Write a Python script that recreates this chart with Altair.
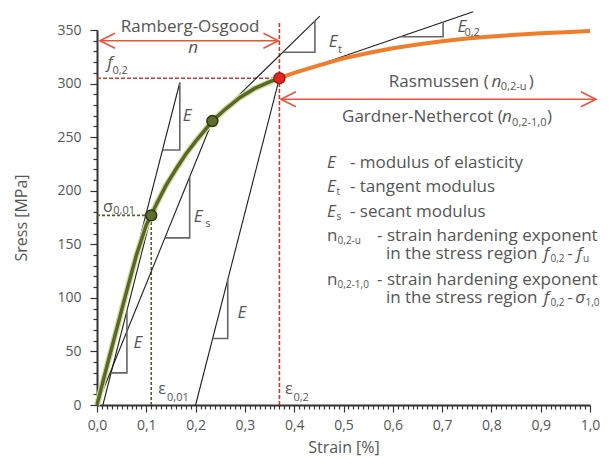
import altair as alt
import numpy as np
import pandas as pd

FONT = "Open Sans"
GRAY = "#555555"
RED_DASH = "#d8322a"
RED_ARROW = "#e9553a"
ORANGE = "#ef7d2a"
GREEN = "#56682b"
GREEN_HALO = "#d3dc96"
GREEN_DASH = "#4f6125"
BLACK = "#1f1f1f"
TRI = "#666666"

# ---------------- data (strain in %, stress in MPa) ----------------
green_strain = [0.0, 0.02, 0.04, 0.06, 0.08, 0.10, 0.11, 0.12, 0.14, 0.16, 0.18, 0.20, 0.234, 0.26, 0.29, 0.32, 0.35, 0.37]
green_stress = [0, 36, 71, 106, 140, 168, 177, 187, 205, 220, 234, 246, 265, 276, 287, 295.5, 301.5, 305]

orange_strain = [0.37, 0.40, 0.45, 0.50, 0.55, 0.60, 0.65, 0.70, 0.75, 0.80, 0.85, 0.90, 0.95, 1.00]
orange_stress = [305, 310, 317, 323.5, 328.5, 333, 336.5, 339.5, 342, 344, 345.5, 347, 348, 349]

point_strain = [0.11, 0.234, 0.37]
point_stress = [177, 265, 305]
point_fill = ["#5d6f2c", "#5d6f2c", "#e0281e"]
point_edge = ["#2b3512", "#2b3512", "#a01810"]

# straight reference lines: (id, strains, stresses)
ref_lines = [
    ("E", [0.0, 0.168], [0, 301]),
    ("E001", [0.012, 0.11], [0, 177]),
    ("Es", [0.0, 0.234], [0, 265]),
    ("Et", [0.234, 0.452], [265, 363]),
    ("E02off", [0.2, 0.37], [0, 305]),
    ("E02", [0.37, 0.763], [305, 367]),
]

# slope triangles
triangles = [
    ("t1", [0.133, 0.168, 0.168], [238, 238, 301]),
    ("t2", [0.138, 0.188, 0.188], [156, 156, 213]),
    ("t3", [0.2346, 0.2652, 0.2652], [62, 62, 117]),
    ("t4", [0.0286, 0.0607, 0.0607], [30, 30, 88]),
    ("t5", [0.377, 0.442, 0.442], [329.3, 329.3, 358.5]),
    ("t6", [0.615, 0.702, 0.702], [343.7, 343.7, 357.4]),
]

red_dashed = [
    ("v", [0.37, 0.37], [0, 358]),
    ("h", [0.0, 0.37], [305, 305]),
]
green_dashed = [
    ("v", [0.11, 0.11], [0, 177]),
    ("h", [0.0, 0.11], [177, 177]),
]

arrows = [
    ("ro", [0.006, 0.368], [340, 340]),
    ("rg", [0.373, 1.012], [285.3, 285.3]),
]

x_ticks = [round(v, 2) for v in np.arange(0, 1.0001, 0.01)]
y_ticks = list(range(0, 351, 10))


def seg_frame(segments):
    rows = []
    for sid, xs, ys in segments:
        for i, (a, b) in enumerate(zip(xs, ys)):
            rows.append({"id": sid, "o": i, "x": a, "y": b})
    return pd.DataFrame(rows)


def text_frame(items):
    return pd.DataFrame([{"t": t, "x": x, "y": y} for t, x, y in items])


xmajor = "abs(datum.value*10 - round(datum.value*10)) < 0.001"
x_axis = alt.Axis(
    values=x_ticks,
    labelExpr=f"{xmajor} ? replace(format(datum.value, '.1f'), '.', ',') : ''",
    tickSize={"condition": {"test": xmajor, "value": 7}, "value": 4},
    grid=False, domainColor="#333333", domainWidth=2, tickColor="#333333", tickWidth=1.2,
    labelFont=FONT, labelFontSize=14, labelColor=GRAY, labelPadding=6,
    labelFlush=False, labelOverlap=False,
    titleFont=FONT, titleFontSize=16, titleColor=GRAY, titleFontWeight="normal", titlePadding=7,
)
ymajor = "datum.value % 50 === 0"
y_axis = alt.Axis(
    values=y_ticks,
    labelExpr=f"{ymajor} ? format(datum.value, 'd') : ''",
    tickSize={"condition": {"test": ymajor, "value": 7}, "value": 4},
    grid=False, domainColor="#333333", domainWidth=2, tickColor="#333333", tickWidth=1.2,
    labelFont=FONT, labelFontSize=14, labelColor=GRAY, labelPadding=9,
    labelOverlap=False,
    titleFont=FONT, titleFontSize=16, titleColor=GRAY, titleFontWeight="normal", titlePadding=27,
)

xs = alt.Scale(domain=[0, 1], nice=False, zero=False)
ys = alt.Scale(domain=[0, 350], nice=False)
X = alt.X("x:Q", scale=xs, axis=x_axis, title="Strain [%]")
Y = alt.Y("y:Q", scale=ys, axis=y_axis, title="Sress [MPa]")


def lines(segs, color, width, dash=None):
    kw = dict(color=color, strokeWidth=width)
    if dash:
        kw["strokeDash"] = dash
    return alt.Chart(seg_frame(segs)).mark_line(**kw).encode(
        x=X, y=Y, detail="id:N", order="o:Q")


def texts(items, size, italic=False, align="left", color=GRAY):
    return alt.Chart(text_frame(items)).mark_text(
        font=FONT, fontSize=size, fontStyle="italic" if italic else "normal",
        align=align, baseline="middle", color=color,
    ).encode(x=X, y=Y, text="t:N")


green_df = pd.DataFrame({"x": green_strain, "y": green_stress})
orange_df = pd.DataFrame({"x": orange_strain, "y": orange_stress})
pts_df = pd.DataFrame({"x": point_strain, "y": point_stress, "f": point_fill, "s": point_edge})

layers = []
layers.append(lines(red_dashed, RED_DASH, 1.6, [4, 2]))
layers.append(lines(green_dashed, GREEN_DASH, 1.6, [3, 2]))
layers.append(lines(ref_lines, BLACK, 1.1))
layers.append(lines(triangles, TRI, 1.6))
layers.append(alt.Chart(green_df).mark_line(color=GREEN_HALO, strokeWidth=6).encode(x=X, y=Y))
layers.append(alt.Chart(green_df).mark_line(color=GREEN, strokeWidth=3.5).encode(x=X, y=Y))
layers.append(alt.Chart(orange_df).mark_line(color=ORANGE, strokeWidth=4).encode(x=X, y=Y))
layers.append(alt.Chart(pts_df).mark_point(filled=True, size=120, strokeWidth=1.5, opacity=1).encode(
    x=X, y=Y, fill=alt.Fill("f:N", scale=None), stroke=alt.Stroke("s:N", scale=None)))

# arrows
layers.append(lines(arrows, RED_ARROW, 1.6))
heads = []
for sid, xa, ya in arrows:
    heads.append({"x": xa[0], "y": ya[0], "a": 180})
    heads.append({"x": xa[1], "y": ya[1], "a": 0})
layers.append(alt.Chart(pd.DataFrame(heads)).mark_point(
    shape="M -1 -0.5 L 0 0 L -1 0.5", filled=False, size=900, strokeWidth=1.6,
    color=RED_ARROW, opacity=1).encode(x=X, y=Y, angle=alt.Angle("a:Q", scale=None)))

# annotation texts
layers.append(texts([("Ramberg-Osgood", 0.189, 352.8)], 17, align="center"))
layers.append(texts([("n", 0.195, 333)], 17, italic=True, align="center"))
layers.append(texts([("Rasmussen (", 0.592, 301.5), (")", 0.876, 301.5),
                     ("Gardner-Nethercot (", 0.497, 268.8), (")", 0.913, 268.8)], 17))
layers.append(texts([("n", 0.800, 301.5), ("n", 0.8215, 268.8)], 17, italic=True))
layers.append(texts([("0,2-u", 0.819, 297), ("0,2-1,0", 0.842, 263.2)], 11))

# symbols on the chart
layers.append(texts([("f", 0.026, 319), ("E", 0.183, 270), ("E", 0.205, 175.5), ("E", 0.294, 86),
                     ("E", 0.083, 58), ("E", 0.479, 339), ("E", 0.740, 353)], 17, italic=True, align="center"))
layers.append(texts([("σ", 0.022, 184.8), ("ε", 0.132, 15), ("ε", 0.389, 15)], 16, align="center"))
layers.append(texts([("0,2", 0.047, 312), ("0,01", 0.055, 181), ("0,01", 0.164, 6.5), ("0,2", 0.414, 6.5),
                     ("s", 0.225, 169), ("t", 0.493, 331), ("0,2", 0.761, 347)], 11, align="center"))

# legend block
LEG = 17
layers.append(texts([("E", 0.4665, 225.9), ("E", 0.4665, 203.5), ("E", 0.4665, 180.1),
                     ("f", 0.906, 140.9), ("f", 0.973, 140.9), ("f", 0.906, 99.9),
                     ("σ", 0.970, 99.9)], LEG, italic=True))
layers.append(texts([("n", 0.4665, 157.7), ("n", 0.4665, 116.7),
                     ("- modulus of elasticity", 0.513, 225.9),
                     ("- tangent modulus", 0.513, 203.5),
                     ("- secant modulus", 0.513, 180.1),
                     ("- strain hardening exponent", 0.568, 157.7),
                     ("in the stress region", 0.586, 140.9),
                     ("- strain hardening exponent", 0.568, 116.7),
                     ("in the stress region", 0.586, 99.9),
                     ("-", 0.954, 140.9), ("-", 0.954, 99.9)], LEG))
layers.append(texts([("t", 0.486, 198.8), ("s", 0.486, 175.4), ("0,2-u", 0.488, 153), ("0,2-1,0", 0.488, 112),
                     ("0,2", 0.920, 136), ("u", 0.986, 136), ("0,2", 0.920, 95), ("1,0", 0.991, 95)], 10))

chart = alt.layer(*layers).properties(
    width=493, height=375,
    padding={"left": 89, "top": 22, "right": 14, "bottom": 53},
    autosize=alt.AutoSizeParams(type="none"),
).configure_view(stroke=None)

chart.save("out.html", embed_options={"renderer": "svg", "actions": False})
